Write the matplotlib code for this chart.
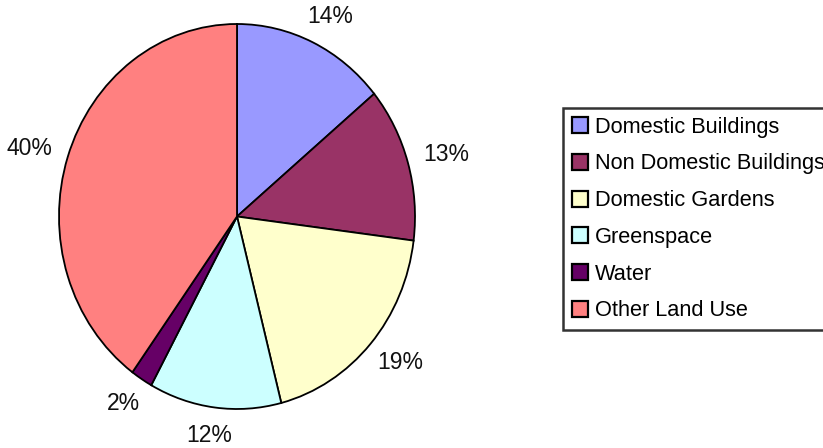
import numpy as np
import matplotlib.pyplot as plt

labels = ["Domestic Buildings", "Non Domestic Buildings", "Domestic Gardens",
          "Greenspace", "Water", "Other Land Use"]
shares = [14, 13, 19, 12, 2, 40]
colors = ["#9999FF", "#993366", "#FFFFCC", "#CCFFFF", "#660066", "#FF8080"]

plt.rcParams["font.family"] = ["Liberation Sans", "DejaVu Sans"]

fig = plt.figure(figsize=(8.23, 4.48), dpi=100)
# pie is slightly taller than wide in the original
ax = fig.add_axes([59 / 823, (448 - 409) / 448, 356 / 823, 385 / 448])

wedges, texts, autotexts = ax.pie(
    shares, colors=colors, startangle=90, counterclock=False,
    autopct="%d%%", pctdistance=1.2, radius=1,
    wedgeprops=dict(edgecolor="black", linewidth=1.3),
    textprops=dict(fontsize=16.5, color="#111111"))
ax.set_xlim(-1, 1)
ax.set_ylim(-1, 1)
ax.set_aspect("auto")
ax.axis("off")

# put each percentage just outside the rim, like Excel's "outside end"
fig.canvas.draw()
r = fig.canvas.get_renderer()
sx = ax.bbox.width / 2
sy = ax.bbox.height / 2
gap = 17
for w, t in zip(wedges, autotexts):
    mid = np.deg2rad((w.theta1 + w.theta2) / 2)
    bb = t.get_window_extent(r)
    c, s = np.cos(mid), np.sin(mid)
    t.set_position((c * (1 + (gap + bb.width / 2) / sx),
                    s * (1 + (gap + bb.height / 2) / sy)))

leg = fig.legend(wedges, labels, loc="upper left",
                 bbox_to_anchor=(563 / 823, (448 - 108) / 448),
                 fontsize=15.7, frameon=True, fancybox=False,
                 handlelength=0.75, handleheight=0.75, handletextpad=0.3,
                 labelspacing=0.72, borderpad=0.4, borderaxespad=0)
leg.get_frame().set_edgecolor("black")
leg.get_frame().set_linewidth(1.8)
for h in leg.legend_handles:
    h.set_linewidth(1.6)

fig.savefig("out.png", dpi=100)
